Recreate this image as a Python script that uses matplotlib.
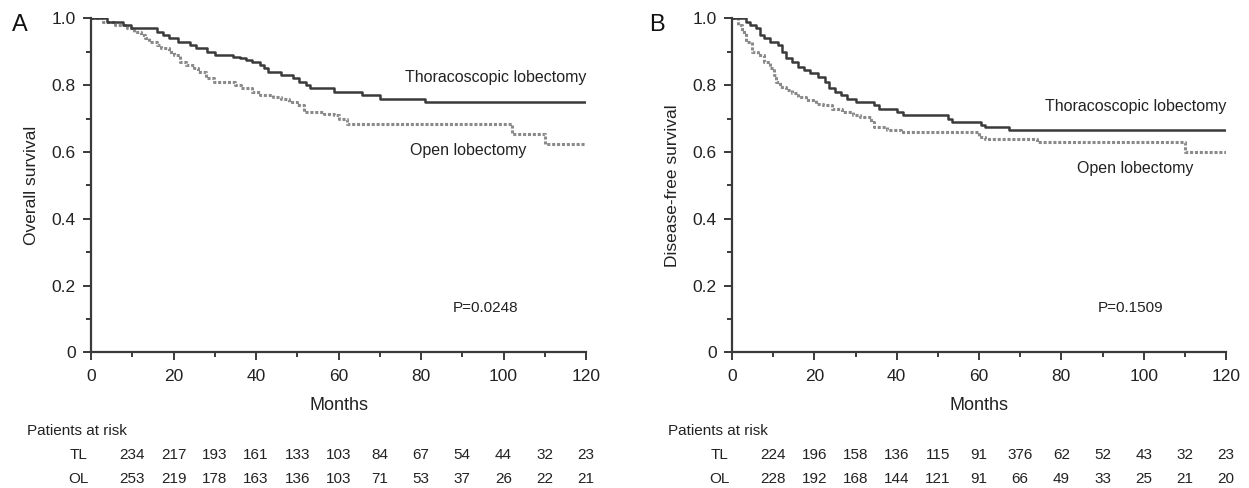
import numpy as np
import matplotlib
matplotlib.use('Agg')
from matplotlib import pyplot as plt
from matplotlib.transforms import blended_transform_factory

plt.rcParams['font.family'] = ['Liberation Sans', 'DejaVu Sans']

# panel A - overall survival (step points: time in months, survival after step)
a_tl_t = [0, 3.8, 7.7, 9.6, 16, 17.5, 19, 21, 24, 25.5, 28, 30, 34.5, 36, 37.5, 39, 41, 42, 43, 46, 49, 50.5, 52, 53, 59, 65.6, 70, 81, 120]
a_tl_s = [1.0, 0.99, 0.98, 0.97, 0.96, 0.95, 0.94, 0.93, 0.92, 0.91, 0.90, 0.89, 0.885, 0.88, 0.875, 0.87, 0.86, 0.85, 0.84, 0.83, 0.82, 0.81, 0.80, 0.79, 0.78, 0.77, 0.76, 0.75, 0.75]
a_ol_t = [0, 3, 5.7, 8.6, 10.5, 12, 13, 14, 16, 17, 19, 20, 21.5, 23, 25, 26, 27.8, 29.7, 35, 36.4, 39, 41, 44, 46, 48, 50, 51.7, 56.5, 59, 60, 62, 102, 110, 120]
a_ol_s = [1.0, 0.99, 0.98, 0.97, 0.96, 0.95, 0.94, 0.93, 0.92, 0.91, 0.90, 0.89, 0.87, 0.86, 0.85, 0.84, 0.82, 0.81, 0.80, 0.79, 0.78, 0.77, 0.765, 0.76, 0.75, 0.74, 0.72, 0.715, 0.71, 0.70, 0.685, 0.655, 0.625, 0.625]

# panel B - disease-free survival
b_tl_t = [0, 3.4, 4.4, 5.9, 6.8, 7.8, 9.3, 11.2, 12.2, 13.2, 14.6, 16.1, 17.5, 19, 21, 22.5, 23.5, 25, 26.5, 28, 30, 34.6, 35.6, 40, 41.5, 52.5, 53.5, 60.5, 61.5, 67.3, 120]
b_tl_s = [1.0, 0.99, 0.98, 0.97, 0.95, 0.94, 0.93, 0.92, 0.90, 0.88, 0.87, 0.855, 0.845, 0.835, 0.825, 0.81, 0.79, 0.78, 0.77, 0.76, 0.75, 0.74, 0.73, 0.72, 0.71, 0.70, 0.69, 0.68, 0.675, 0.667, 0.667]
b_ol_t = [0, 1.5, 2.4, 3.4, 4.9, 6.3, 7.8, 9.3, 10.2, 10.7, 11.7, 13.2, 14.6, 16.1, 18, 20.5, 22, 24.4, 26.8, 29.3, 31.2, 33.7, 34.6, 37.6, 41, 60, 61.5, 74, 110, 120]
b_ol_s = [1.0, 0.98, 0.96, 0.93, 0.90, 0.89, 0.87, 0.85, 0.83, 0.81, 0.795, 0.785, 0.775, 0.765, 0.755, 0.745, 0.74, 0.73, 0.72, 0.71, 0.705, 0.69, 0.675, 0.665, 0.66, 0.645, 0.64, 0.63, 0.60, 0.60]

risk_months = [10, 20, 30, 40, 50, 60, 70, 80, 90, 100, 110, 120]
a_tl_risk = [234, 217, 193, 161, 133, 103, 84, 67, 54, 44, 32, 23]
a_ol_risk = [253, 219, 178, 163, 136, 103, 71, 53, 37, 26, 22, 21]
b_tl_risk = [224, 196, 158, 136, 115, 91, 376, 62, 52, 43, 32, 23]
b_ol_risk = [228, 192, 168, 144, 121, 91, 66, 49, 33, 25, 21, 20]

panels = [
    ('A', 'Overall survival', 'P=0.0248', a_tl_t, a_tl_s, a_ol_t, a_ol_s, a_tl_risk, a_ol_risk,
     [0.0729, 0.2777, 0.3963, 0.6848], (0.822, 0.603), 91.4, 95.6, 20 / 1249),
    ('B', 'Disease-free survival', 'P=0.1509', b_tl_t, b_tl_s, b_ol_t, b_ol_s, b_tl_risk, b_ol_risk,
     [0.5861, 0.2777, 0.3955, 0.6848], (0.735, 0.552), 97.9, 96.7, 657 / 1249),
]

fig = plt.figure(figsize=(12.49, 4.88), dpi=100)
dark = '#3a3a3a'
for (letter, ylab, ptxt, tt, ts, ot, os_, tr, orr, pos, lab_y, open_x, p_x, letter_x) in panels:
    ax = fig.add_axes(pos)
    ax.step(ot, os_, where='post', color='#8a8a8a', lw=2.2, linestyle=(0, (1, 0.6)))
    ax.step(tt, ts, where='post', color=dark, lw=1.8)
    ax.set_xlim(0, 120)
    ax.set_ylim(0, 1.0)
    for s in ['top', 'right']:
        ax.spines[s].set_visible(False)
    for s in ['left', 'bottom']:
        ax.spines[s].set_color(dark)
        ax.spines[s].set_linewidth(1.6)
    ax.set_xticks(np.arange(0, 121, 20))
    ax.set_xticks(np.arange(10, 120, 20), minor=True)
    ax.set_yticks([0, 0.2, 0.4, 0.6, 0.8, 1.0])
    ax.set_yticklabels(['0', '0.2', '0.4', '0.6', '0.8', '1.0'])
    ax.set_yticks([0.1, 0.3, 0.5, 0.7, 0.9], minor=True)
    ax.tick_params(which='major', direction='out', length=6, width=1.4, color=dark,
                   labelsize=12.5, labelcolor='#222222')
    ax.tick_params(axis='x', which='major', pad=6)
    ax.tick_params(axis='y', which='major', pad=5)
    ax.tick_params(which='minor', direction='out', length=3.5, width=1.4, color=dark)
    ax.set_xlabel('Months', fontsize=13, color='#222222', labelpad=9)
    ax.set_ylabel(ylab, fontsize=12.5, color='#222222', labelpad=9)
    ax.text(120, lab_y[0], 'Thoracoscopic lobectomy', ha='right', va='center', fontsize=11.5, color='#222222')
    ax.text(open_x, lab_y[1], 'Open lobectomy', ha='center', va='center', fontsize=11.5, color='#222222')
    ax.text(p_x, 0.133, ptxt, ha='center', va='center', fontsize=11, color='#222222')
    fig.text(letter_x, 0.948, letter, ha='center', va='center', fontsize=17, color='#111111')

    tr_b = blended_transform_factory(ax.transData, fig.transFigure)
    ax.text(-15.5, 0.1168, 'Patients at risk', transform=tr_b, ha='left', va='center', fontsize=11, color='#222222')
    ax.text(-3, 0.0676, 'TL', transform=tr_b, ha='center', va='center', fontsize=11, color='#222222')
    ax.text(-3, 0.0184, 'OL', transform=tr_b, ha='center', va='center', fontsize=11, color='#222222')
    for m, a, b in zip(risk_months, tr, orr):
        ax.text(m, 0.0676, str(a), transform=tr_b, ha='center', va='center', fontsize=11, color='#222222')
        ax.text(m, 0.0184, str(b), transform=tr_b, ha='center', va='center', fontsize=11, color='#222222')

fig.savefig('out.png', dpi=100)
